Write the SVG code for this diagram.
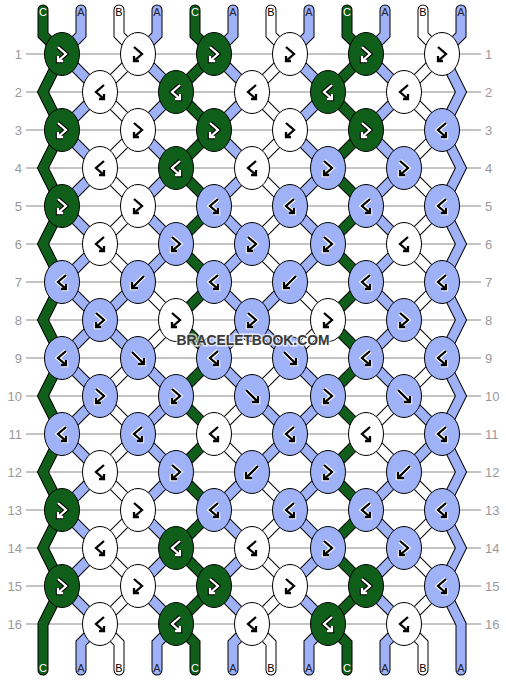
<svg xmlns="http://www.w3.org/2000/svg" xmlns:xlink="http://www.w3.org/1999/xlink" width="506" height="680" viewBox="0 0 506 680">
<style>
.grid{stroke:#c4c4c4;stroke-width:2;fill:none}
.rl{font-family:"Liberation Sans",Arial,sans-serif;font-size:13px;fill:#999}
.rl.l{text-anchor:end}
.k{fill:none;stroke:#000;stroke-width:11;stroke-linecap:round}
.ca{fill:none;stroke:#9fb2f7;stroke-width:9;stroke-linecap:round}
.cb{fill:none;stroke:#fff;stroke-width:9;stroke-linecap:round}
.cc{fill:none;stroke:#0f5f1a;stroke-width:9;stroke-linecap:round}
.ng{fill:#0f5f1a;stroke:#000;stroke-width:1}
.na{fill:#9fb2f7;stroke:#000;stroke-width:1}
.nb{fill:#fff;stroke:#000;stroke-width:1}
.hk{fill:none;stroke:#000;stroke-width:4.4}
.aw{fill:none;stroke:#fff;stroke-width:2.3}
.hw{fill:none;stroke:#fff;stroke-width:4.4}
.ak{fill:none;stroke:#000;stroke-width:2.3}
.sl{font-family:"Liberation Sans",Arial,sans-serif;font-size:11px;text-anchor:middle}
.tc{fill:#fff}.ta{fill:#223}.tb{fill:#000}
.wm{font-family:"Liberation Sans",Arial,sans-serif;font-weight:bold;font-size:15px;fill:#3a3a3a;stroke:#fff;stroke-opacity:0.7;stroke-width:3;paint-order:stroke;text-anchor:middle}
</style>
<defs>
<path id="fb" d="M-4-7L4 0L-4 7M-4 2V7H1"/>
<path id="bf" d="M4-7L-4 0L4 7M4 2V7H-1"/>
<path id="f" d="M-6-6L6 6M6 0V6H0"/>
<path id="b" d="M6-6L-6 6M-6 0V6H0"/>
<g id="FBw"><use href="#fb" class="hk"/><use href="#fb" class="aw"/></g>
<g id="FBk"><use href="#fb" class="hw"/><use href="#fb" class="ak"/></g>
<g id="BFw"><use href="#bf" class="hk"/><use href="#bf" class="aw"/></g>
<g id="BFk"><use href="#bf" class="hw"/><use href="#bf" class="ak"/></g>
<g id="Fk"><use href="#f" class="hw"/><use href="#f" class="ak"/></g>
<g id="Bk"><use href="#b" class="hw"/><use href="#b" class="ak"/></g>
<path id="oAll" d="M62 0L100 38M138 0L100 38M138 0L176 38M214 0L176 38M214 0L252 38M290 0L252 38M290 0L328 38M366 0L328 38M366 0L404 38M442 0L404 38"/>
<path id="eAll" d="M100 0L62 38M100 0L138 38M176 0L138 38M176 0L214 38M252 0L214 38M252 0L290 38M328 0L290 38M328 0L366 38M404 0L366 38M404 0L442 38"/>
<g id="gO0"><use href="#oAll" class="k"/>
<path class="ca" d="M62 0L100 38M138 0L176 38M214 0L252 38M290 0L328 38M366 0L404 38"/>
<path class="cb" d="M138 0L100 38M290 0L252 38M442 0L404 38"/>
<path class="cc" d="M214 0L176 38M366 0L328 38"/></g>
<g id="gE0"><use href="#eAll" class="k"/>
<path class="ca" d="M100 0L62 38M176 0L138 38M252 0L214 38M328 0L290 38M404 0L366 38"/>
<path class="cb" d="M100 0L138 38M252 0L290 38M404 0L442 38"/>
<path class="cc" d="M176 0L214 38M328 0L366 38"/></g>
<g id="gO7"><use href="#oAll" class="k"/>
<path class="ca" d="M62 0L100 38M138 0L100 38M214 0L252 38M290 0L252 38M366 0L404 38"/>
<path class="cb" d="M138 0L176 38M290 0L328 38M442 0L404 38"/>
<path class="cc" d="M214 0L176 38M366 0L328 38"/></g>
<g id="gE7"><use href="#eAll" class="k"/>
<path class="ca" d="M100 0L62 38M100 0L138 38M252 0L214 38M252 0L290 38M404 0L366 38"/>
<path class="cb" d="M176 0L138 38M328 0L290 38M404 0L442 38"/>
<path class="cc" d="M176 0L214 38M328 0L366 38"/></g>
<g id="gE10"><use href="#eAll" class="k"/>
<path class="ca" d="M100 0L62 38M176 0L138 38M252 0L290 38M328 0L290 38M404 0L442 38"/>
<path class="cb" d="M100 0L138 38M252 0L214 38M404 0L366 38"/>
<path class="cc" d="M176 0L214 38M328 0L366 38"/></g>
<g id="gO10"><use href="#oAll" class="k"/>
<path class="ca" d="M62 0L100 38M138 0L176 38M290 0L252 38M290 0L328 38M442 0L404 38"/>
<path class="cb" d="M138 0L100 38M214 0L252 38M366 0L404 38"/>
<path class="cc" d="M214 0L176 38M366 0L328 38"/></g>
</defs>
<rect width="506" height="680" fill="#fff"/>
<g id="rows">
<path class="grid" d="M26 54H481M26 92H481M26 130H481M26 168H481M26 206H481M26 244H481M26 282H481M26 320H481M26 358H481M26 396H481M26 434H481M26 472H481M26 510H481M26 548H481M26 586H481M26 624H481"/>
<text class="rl l" x="22" y="59">1</text><text class="rl l" x="22" y="97">2</text><text class="rl l" x="22" y="135">3</text><text class="rl l" x="22" y="173">4</text><text class="rl l" x="22" y="211">5</text><text class="rl l" x="22" y="249">6</text><text class="rl l" x="22" y="287">7</text><text class="rl l" x="22" y="325">8</text><text class="rl l" x="22" y="363">9</text><text class="rl l" x="22" y="401">10</text><text class="rl l" x="22" y="439">11</text><text class="rl l" x="22" y="477">12</text><text class="rl l" x="22" y="515">13</text><text class="rl l" x="22" y="553">14</text><text class="rl l" x="22" y="591">15</text><text class="rl l" x="22" y="629">16</text>
<text class="rl" x="485" y="59">1</text><text class="rl" x="485" y="97">2</text><text class="rl" x="485" y="135">3</text><text class="rl" x="485" y="173">4</text><text class="rl" x="485" y="211">5</text><text class="rl" x="485" y="249">6</text><text class="rl" x="485" y="287">7</text><text class="rl" x="485" y="325">8</text><text class="rl" x="485" y="363">9</text><text class="rl" x="485" y="401">10</text><text class="rl" x="485" y="439">11</text><text class="rl" x="485" y="477">12</text><text class="rl" x="485" y="515">13</text><text class="rl" x="485" y="553">14</text><text class="rl" x="485" y="591">15</text><text class="rl" x="485" y="629">16</text>
</g>
<g id="connectors">
<path class="k" d="M43 10V35L62 54L43 92L62 130L43 168L62 206L43 244L62 282L43 320L62 358L43 396L62 434L43 472L62 510L43 548L62 586L43 624V670M461 10V35L442 54L461 92L442 130L461 168L442 206L461 244L442 282L461 320L442 358L461 396L442 434L461 472L442 510L461 548L442 586L461 624V670"/>
<path class="cc" d="M43 10V35L62 54L43 92L62 130L43 168L62 206L43 244L62 282L43 320L62 358L43 396L62 434L43 472L62 510L43 548L62 586L43 624V670"/>
<path class="ca" d="M461 10V35L442 54L461 92L442 130L461 168L442 206L461 244L442 282L461 320L442 358L461 396L442 434L461 472L442 510L461 548L442 586L461 624V670"/>
<path class="k" d="M81 10V35L62 54M157 10V35L138 54M233 10V35L214 54M309 10V35L290 54M385 10V35L366 54M119 10V35L138 54M271 10V35L290 54M423 10V35L442 54M195 10V35L214 54M347 10V35L366 54"/>
<path class="ca" d="M81 10V35L62 54M157 10V35L138 54M233 10V35L214 54M309 10V35L290 54M385 10V35L366 54"/>
<path class="cb" d="M119 10V35L138 54M271 10V35L290 54M423 10V35L442 54"/>
<path class="cc" d="M195 10V35L214 54M347 10V35L366 54"/>
<path class="k" d="M100 624L81 643V670M176 624L157 643V670M252 624L233 643V670M328 624L309 643V670M404 624L385 643V670M100 624L119 643V670M252 624L271 643V670M404 624L423 643V670M176 624L195 643V670M328 624L347 643V670"/>
<path class="ca" d="M100 624L81 643V670M176 624L157 643V670M252 624L233 643V670M328 624L309 643V670M404 624L385 643V670"/>
<path class="cb" d="M100 624L119 643V670M252 624L271 643V670M404 624L423 643V670"/>
<path class="cc" d="M176 624L195 643V670M328 624L347 643V670"/>
<use href="#gO0" y="54"/><use href="#gE0" y="92"/><use href="#gO0" y="130"/><use href="#gE0" y="168"/><use href="#gO0" y="206"/><use href="#gE0" y="244"/><use href="#gO7" y="282"/><use href="#gE7" y="320"/><use href="#gO0" y="358"/><use href="#gE10" y="396"/><use href="#gO10" y="434"/><use href="#gE0" y="472"/><use href="#gO0" y="510"/><use href="#gE0" y="548"/><use href="#gO0" y="586"/>
</g>
<g id="string-labels">
<text class="sl tc" x="43" y="16">C</text><text class="sl ta" x="81" y="16">A</text><text class="sl tb" x="119" y="16">B</text><text class="sl ta" x="157" y="16">A</text><text class="sl tc" x="195" y="16">C</text><text class="sl ta" x="233" y="16">A</text><text class="sl tb" x="271" y="16">B</text><text class="sl ta" x="309" y="16">A</text><text class="sl tc" x="347" y="16">C</text><text class="sl ta" x="385" y="16">A</text><text class="sl tb" x="423" y="16">B</text><text class="sl ta" x="461" y="16">A</text>
<text class="sl tc" x="43" y="672">C</text><text class="sl ta" x="81" y="672">A</text><text class="sl tb" x="119" y="672">B</text><text class="sl ta" x="157" y="672">A</text><text class="sl tc" x="195" y="672">C</text><text class="sl ta" x="233" y="672">A</text><text class="sl tb" x="271" y="672">B</text><text class="sl ta" x="309" y="672">A</text><text class="sl tc" x="347" y="672">C</text><text class="sl ta" x="385" y="672">A</text><text class="sl tb" x="423" y="672">B</text><text class="sl ta" x="461" y="672">A</text>
</g>
<g id="knots">
<g id="k1-1"><ellipse class="ng" cx="62" cy="54" rx="17.5" ry="21.5"/><use href="#FBw" x="62" y="54"/></g>
<g id="k1-2"><ellipse class="nb" cx="138" cy="54" rx="17.5" ry="21.5"/><use href="#FBk" x="138" y="54"/></g>
<g id="k1-3"><ellipse class="ng" cx="214" cy="54" rx="17.5" ry="21.5"/><use href="#FBw" x="214" y="54"/></g>
<g id="k1-4"><ellipse class="nb" cx="290" cy="54" rx="17.5" ry="21.5"/><use href="#FBk" x="290" y="54"/></g>
<g id="k1-5"><ellipse class="ng" cx="366" cy="54" rx="17.5" ry="21.5"/><use href="#FBw" x="366" y="54"/></g>
<g id="k1-6"><ellipse class="nb" cx="442" cy="54" rx="17.5" ry="21.5"/><use href="#FBk" x="442" y="54"/></g>
<g id="k2-1"><ellipse class="nb" cx="100" cy="92" rx="17.5" ry="21.5"/><use href="#BFk" x="100" y="92"/></g>
<g id="k2-2"><ellipse class="ng" cx="176" cy="92" rx="17.5" ry="21.5"/><use href="#BFw" x="176" y="92"/></g>
<g id="k2-3"><ellipse class="nb" cx="252" cy="92" rx="17.5" ry="21.5"/><use href="#BFk" x="252" y="92"/></g>
<g id="k2-4"><ellipse class="ng" cx="328" cy="92" rx="17.5" ry="21.5"/><use href="#BFw" x="328" y="92"/></g>
<g id="k2-5"><ellipse class="nb" cx="404" cy="92" rx="17.5" ry="21.5"/><use href="#BFk" x="404" y="92"/></g>
<g id="k3-1"><ellipse class="ng" cx="62" cy="130" rx="17.5" ry="21.5"/><use href="#FBw" x="62" y="130"/></g>
<g id="k3-2"><ellipse class="nb" cx="138" cy="130" rx="17.5" ry="21.5"/><use href="#FBk" x="138" y="130"/></g>
<g id="k3-3"><ellipse class="ng" cx="214" cy="130" rx="17.5" ry="21.5"/><use href="#FBw" x="214" y="130"/></g>
<g id="k3-4"><ellipse class="nb" cx="290" cy="130" rx="17.5" ry="21.5"/><use href="#FBk" x="290" y="130"/></g>
<g id="k3-5"><ellipse class="ng" cx="366" cy="130" rx="17.5" ry="21.5"/><use href="#FBw" x="366" y="130"/></g>
<g id="k3-6"><ellipse class="na" cx="442" cy="130" rx="17.5" ry="21.5"/><use href="#BFk" x="442" y="130"/></g>
<g id="k4-1"><ellipse class="nb" cx="100" cy="168" rx="17.5" ry="21.5"/><use href="#BFk" x="100" y="168"/></g>
<g id="k4-2"><ellipse class="ng" cx="176" cy="168" rx="17.5" ry="21.5"/><use href="#BFw" x="176" y="168"/></g>
<g id="k4-3"><ellipse class="nb" cx="252" cy="168" rx="17.5" ry="21.5"/><use href="#BFk" x="252" y="168"/></g>
<g id="k4-4"><ellipse class="na" cx="328" cy="168" rx="17.5" ry="21.5"/><use href="#FBk" x="328" y="168"/></g>
<g id="k4-5"><ellipse class="na" cx="404" cy="168" rx="17.5" ry="21.5"/><use href="#FBk" x="404" y="168"/></g>
<g id="k5-1"><ellipse class="ng" cx="62" cy="206" rx="17.5" ry="21.5"/><use href="#FBw" x="62" y="206"/></g>
<g id="k5-2"><ellipse class="nb" cx="138" cy="206" rx="17.5" ry="21.5"/><use href="#FBk" x="138" y="206"/></g>
<g id="k5-3"><ellipse class="na" cx="214" cy="206" rx="17.5" ry="21.5"/><use href="#BFk" x="214" y="206"/></g>
<g id="k5-4"><ellipse class="na" cx="290" cy="206" rx="17.5" ry="21.5"/><use href="#BFk" x="290" y="206"/></g>
<g id="k5-5"><ellipse class="na" cx="366" cy="206" rx="17.5" ry="21.5"/><use href="#BFk" x="366" y="206"/></g>
<g id="k5-6"><ellipse class="na" cx="442" cy="206" rx="17.5" ry="21.5"/><use href="#BFk" x="442" y="206"/></g>
<g id="k6-1"><ellipse class="nb" cx="100" cy="244" rx="17.5" ry="21.5"/><use href="#BFk" x="100" y="244"/></g>
<g id="k6-2"><ellipse class="na" cx="176" cy="244" rx="17.5" ry="21.5"/><use href="#FBk" x="176" y="244"/></g>
<g id="k6-3"><ellipse class="na" cx="252" cy="244" rx="17.5" ry="21.5"/><use href="#FBk" x="252" y="244"/></g>
<g id="k6-4"><ellipse class="na" cx="328" cy="244" rx="17.5" ry="21.5"/><use href="#FBk" x="328" y="244"/></g>
<g id="k6-5"><ellipse class="nb" cx="404" cy="244" rx="17.5" ry="21.5"/><use href="#BFk" x="404" y="244"/></g>
<g id="k7-1"><ellipse class="na" cx="62" cy="282" rx="17.5" ry="21.5"/><use href="#BFk" x="62" y="282"/></g>
<g id="k7-2"><ellipse class="na" cx="138" cy="282" rx="17.5" ry="21.5"/><use href="#Bk" x="138" y="282"/></g>
<g id="k7-3"><ellipse class="na" cx="214" cy="282" rx="17.5" ry="21.5"/><use href="#BFk" x="214" y="282"/></g>
<g id="k7-4"><ellipse class="na" cx="290" cy="282" rx="17.5" ry="21.5"/><use href="#Bk" x="290" y="282"/></g>
<g id="k7-5"><ellipse class="na" cx="366" cy="282" rx="17.5" ry="21.5"/><use href="#BFk" x="366" y="282"/></g>
<g id="k7-6"><ellipse class="na" cx="442" cy="282" rx="17.5" ry="21.5"/><use href="#BFk" x="442" y="282"/></g>
<g id="k8-1"><ellipse class="na" cx="100" cy="320" rx="17.5" ry="21.5"/><use href="#FBk" x="100" y="320"/></g>
<g id="k8-2"><ellipse class="nb" cx="176" cy="320" rx="17.5" ry="21.5"/><use href="#FBk" x="176" y="320"/></g>
<g id="k8-3"><ellipse class="na" cx="252" cy="320" rx="17.5" ry="21.5"/><use href="#FBk" x="252" y="320"/></g>
<g id="k8-4"><ellipse class="nb" cx="328" cy="320" rx="17.5" ry="21.5"/><use href="#FBk" x="328" y="320"/></g>
<g id="k8-5"><ellipse class="na" cx="404" cy="320" rx="17.5" ry="21.5"/><use href="#FBk" x="404" y="320"/></g>
<g id="k9-1"><ellipse class="na" cx="62" cy="358" rx="17.5" ry="21.5"/><use href="#BFk" x="62" y="358"/></g>
<g id="k9-2"><ellipse class="na" cx="138" cy="358" rx="17.5" ry="21.5"/><use href="#Fk" x="138" y="358"/></g>
<g id="k9-3"><ellipse class="na" cx="214" cy="358" rx="17.5" ry="21.5"/><use href="#BFk" x="214" y="358"/></g>
<g id="k9-4"><ellipse class="na" cx="290" cy="358" rx="17.5" ry="21.5"/><use href="#Fk" x="290" y="358"/></g>
<g id="k9-5"><ellipse class="na" cx="366" cy="358" rx="17.5" ry="21.5"/><use href="#BFk" x="366" y="358"/></g>
<g id="k9-6"><ellipse class="na" cx="442" cy="358" rx="17.5" ry="21.5"/><use href="#BFk" x="442" y="358"/></g>
<g id="k10-1"><ellipse class="na" cx="100" cy="396" rx="17.5" ry="21.5"/><use href="#FBk" x="100" y="396"/></g>
<g id="k10-2"><ellipse class="na" cx="176" cy="396" rx="17.5" ry="21.5"/><use href="#FBk" x="176" y="396"/></g>
<g id="k10-3"><ellipse class="na" cx="252" cy="396" rx="17.5" ry="21.5"/><use href="#Fk" x="252" y="396"/></g>
<g id="k10-4"><ellipse class="na" cx="328" cy="396" rx="17.5" ry="21.5"/><use href="#FBk" x="328" y="396"/></g>
<g id="k10-5"><ellipse class="na" cx="404" cy="396" rx="17.5" ry="21.5"/><use href="#Fk" x="404" y="396"/></g>
<g id="k11-1"><ellipse class="na" cx="62" cy="434" rx="17.5" ry="21.5"/><use href="#BFk" x="62" y="434"/></g>
<g id="k11-2"><ellipse class="na" cx="138" cy="434" rx="17.5" ry="21.5"/><use href="#BFk" x="138" y="434"/></g>
<g id="k11-3"><ellipse class="nb" cx="214" cy="434" rx="17.5" ry="21.5"/><use href="#BFk" x="214" y="434"/></g>
<g id="k11-4"><ellipse class="na" cx="290" cy="434" rx="17.5" ry="21.5"/><use href="#BFk" x="290" y="434"/></g>
<g id="k11-5"><ellipse class="nb" cx="366" cy="434" rx="17.5" ry="21.5"/><use href="#BFk" x="366" y="434"/></g>
<g id="k11-6"><ellipse class="na" cx="442" cy="434" rx="17.5" ry="21.5"/><use href="#BFk" x="442" y="434"/></g>
<g id="k12-1"><ellipse class="nb" cx="100" cy="472" rx="17.5" ry="21.5"/><use href="#BFk" x="100" y="472"/></g>
<g id="k12-2"><ellipse class="na" cx="176" cy="472" rx="17.5" ry="21.5"/><use href="#FBk" x="176" y="472"/></g>
<g id="k12-3"><ellipse class="na" cx="252" cy="472" rx="17.5" ry="21.5"/><use href="#Bk" x="252" y="472"/></g>
<g id="k12-4"><ellipse class="na" cx="328" cy="472" rx="17.5" ry="21.5"/><use href="#FBk" x="328" y="472"/></g>
<g id="k12-5"><ellipse class="na" cx="404" cy="472" rx="17.5" ry="21.5"/><use href="#Bk" x="404" y="472"/></g>
<g id="k13-1"><ellipse class="ng" cx="62" cy="510" rx="17.5" ry="21.5"/><use href="#FBw" x="62" y="510"/></g>
<g id="k13-2"><ellipse class="nb" cx="138" cy="510" rx="17.5" ry="21.5"/><use href="#FBk" x="138" y="510"/></g>
<g id="k13-3"><ellipse class="na" cx="214" cy="510" rx="17.5" ry="21.5"/><use href="#BFk" x="214" y="510"/></g>
<g id="k13-4"><ellipse class="na" cx="290" cy="510" rx="17.5" ry="21.5"/><use href="#BFk" x="290" y="510"/></g>
<g id="k13-5"><ellipse class="na" cx="366" cy="510" rx="17.5" ry="21.5"/><use href="#BFk" x="366" y="510"/></g>
<g id="k13-6"><ellipse class="na" cx="442" cy="510" rx="17.5" ry="21.5"/><use href="#BFk" x="442" y="510"/></g>
<g id="k14-1"><ellipse class="nb" cx="100" cy="548" rx="17.5" ry="21.5"/><use href="#BFk" x="100" y="548"/></g>
<g id="k14-2"><ellipse class="ng" cx="176" cy="548" rx="17.5" ry="21.5"/><use href="#BFw" x="176" y="548"/></g>
<g id="k14-3"><ellipse class="nb" cx="252" cy="548" rx="17.5" ry="21.5"/><use href="#BFk" x="252" y="548"/></g>
<g id="k14-4"><ellipse class="na" cx="328" cy="548" rx="17.5" ry="21.5"/><use href="#FBk" x="328" y="548"/></g>
<g id="k14-5"><ellipse class="na" cx="404" cy="548" rx="17.5" ry="21.5"/><use href="#FBk" x="404" y="548"/></g>
<g id="k15-1"><ellipse class="ng" cx="62" cy="586" rx="17.5" ry="21.5"/><use href="#FBw" x="62" y="586"/></g>
<g id="k15-2"><ellipse class="nb" cx="138" cy="586" rx="17.5" ry="21.5"/><use href="#FBk" x="138" y="586"/></g>
<g id="k15-3"><ellipse class="ng" cx="214" cy="586" rx="17.5" ry="21.5"/><use href="#FBw" x="214" y="586"/></g>
<g id="k15-4"><ellipse class="nb" cx="290" cy="586" rx="17.5" ry="21.5"/><use href="#FBk" x="290" y="586"/></g>
<g id="k15-5"><ellipse class="ng" cx="366" cy="586" rx="17.5" ry="21.5"/><use href="#FBw" x="366" y="586"/></g>
<g id="k15-6"><ellipse class="na" cx="442" cy="586" rx="17.5" ry="21.5"/><use href="#BFk" x="442" y="586"/></g>
<g id="k16-1"><ellipse class="nb" cx="100" cy="624" rx="17.5" ry="21.5"/><use href="#BFk" x="100" y="624"/></g>
<g id="k16-2"><ellipse class="ng" cx="176" cy="624" rx="17.5" ry="21.5"/><use href="#BFw" x="176" y="624"/></g>
<g id="k16-3"><ellipse class="nb" cx="252" cy="624" rx="17.5" ry="21.5"/><use href="#BFk" x="252" y="624"/></g>
<g id="k16-4"><ellipse class="ng" cx="328" cy="624" rx="17.5" ry="21.5"/><use href="#BFw" x="328" y="624"/></g>
<g id="k16-5"><ellipse class="nb" cx="404" cy="624" rx="17.5" ry="21.5"/><use href="#BFk" x="404" y="624"/></g>
</g>
<text class="wm" x="253" y="345" textLength="153" lengthAdjust="spacingAndGlyphs">BRACELETBOOK.COM</text>
</svg>
